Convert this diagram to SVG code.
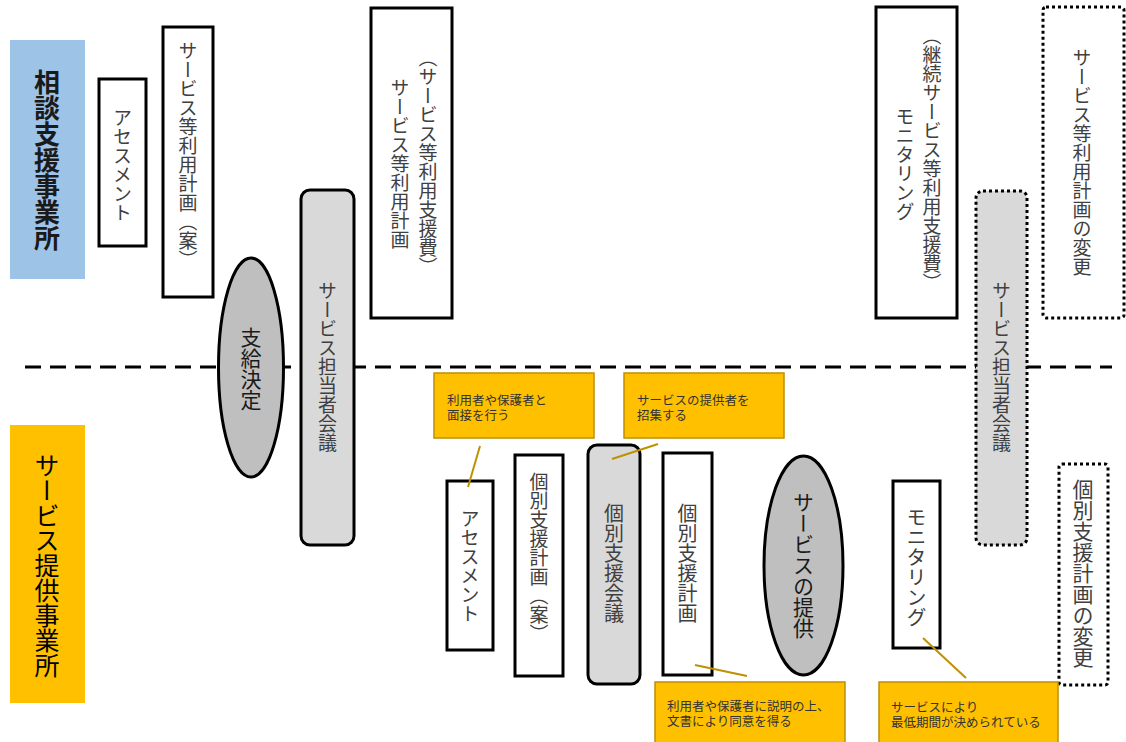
<svg xmlns="http://www.w3.org/2000/svg" width="1126" height="742" viewBox="0 0 1126 742">
<style>
text{font-family:"Noto Sans CJK JP","Noto Sans",sans-serif;}
.v{writing-mode:vertical-rl;text-anchor:middle;fill:#404040;font-size:19px;}
.box{fill:#fff;stroke:#000;stroke-width:3;}
.gbox{fill:#d9d9d9;stroke:#000;stroke-width:3;}
.dot{fill:#fff;stroke:#000;stroke-width:3;stroke-dasharray:3 3;}
.dotg{fill:#d9d9d9;stroke:#000;stroke-width:3;stroke-dasharray:3 3;}
.ell{fill:#bfbfbf;stroke:#000;stroke-width:3;}
.call{fill:#ffc000;stroke:#bf9000;stroke-width:1.5;}
.ct{font-size:12.5px;fill:#333;}
.lead{stroke:#bf9000;stroke-width:2;fill:none;}
</style>
<rect width="1126" height="742" fill="#fff"/>
<line x1="25" y1="367" x2="1112" y2="367" stroke="#000" stroke-width="3" stroke-dasharray="16 9"/>

<g id="lane-soudan">
<rect x="10" y="40" width="75" height="239" fill="#9dc3e6"/>
<text class="v" x="47" y="160" style="font-size:26px;font-weight:bold;fill:#1a1a1a">相談支援事業所</text>
</g>
<g id="lane-teikyo">
<rect x="10" y="425" width="75" height="278" fill="#ffc000"/>
<text class="v" x="47" y="565" style="font-size:25px;fill:#000">サービス提供事業所</text>
</g>

<g id="n-assess1">
<rect class="box" x="99" y="79" width="47" height="167"/>
<text class="v" x="122.5" y="165">アセスメント</text>
</g>
<g id="n-plan-draft1">
<rect class="box" x="163" y="27" width="50" height="270"/>
<text class="v" x="188" y="155">サービス等利用計画（案）</text>
</g>
<g id="n-shikyu">
<ellipse class="ell" cx="251" cy="367.5" rx="32.5" ry="109.5"/>
<text class="v" x="251" y="369" style="font-size:21px;fill:#1a1a1a">支給決定</text>
</g>
<g id="n-tantou1">
<rect class="gbox" x="301" y="190" width="53" height="355" rx="9"/>
<text class="v" x="327.5" y="367">サービス担当者会議</text>
</g>
<g id="n-plan1">
<rect class="box" x="371" y="8" width="81" height="310"/>
<text class="v" x="428" y="162">（サービス等利用支援費）</text>
<text class="v" x="400" y="164">サービス等利用計画</text>
</g>
<g id="n-monitor1">
<rect class="box" x="876" y="7" width="81" height="311"/>
<text class="v" x="932" y="159">（継続サービス等利用支援費）</text>
<text class="v" x="905" y="164">モニタリング</text>
</g>
<g id="n-tantou2">
<rect class="dotg" x="976" y="191" width="51" height="354" rx="7"/>
<text class="v" x="1001.5" y="367">サービス担当者会議</text>
</g>
<g id="n-change1">
<rect class="dot" x="1043" y="7" width="81" height="311" rx="3"/>
<text class="v" x="1082" y="162">サービス等利用計画の変更</text>
</g>

<g id="n-assess2">
<rect class="box" x="447" y="481" width="46" height="169"/>
<text class="v" x="470" y="566">アセスメント</text>
</g>
<g id="n-kobetsu-draft">
<rect class="box" x="515" y="455" width="48" height="221"/>
<text class="v" x="539" y="558">個別支援計画（案）</text>
</g>
<g id="n-kobetsu-kaigi">
<rect class="gbox" x="588" y="445" width="52" height="239" rx="9"/>
<text class="v" x="614" y="563" style="font-size:20px">個別支援会議</text>
</g>
<g id="n-kobetsu-plan">
<rect class="box" x="663" y="453" width="49" height="222"/>
<text class="v" x="687.5" y="563" style="font-size:20px">個別支援計画</text>
</g>
<g id="n-teikyo">
<ellipse class="ell" cx="803.5" cy="565.5" rx="39.5" ry="109.5"/>
<text class="v" x="803.5" y="565" style="font-size:21px;fill:#1a1a1a">サービスの提供</text>
</g>
<g id="n-monitor2">
<rect class="box" x="893" y="481" width="47" height="167"/>
<text class="v" x="916.5" y="567" style="font-size:20px">モニタリング</text>
</g>
<g id="n-change2">
<rect class="dot" x="1059" y="464" width="49" height="221" rx="3"/>
<text class="v" x="1083" y="573" style="font-size:21px">個別支援計画の変更</text>
</g>

<g id="callout-1">
<rect class="call" x="434" y="373" width="160" height="65"/>
<text class="ct" x="447" y="405">利用者や保護者と</text>
<text class="ct" x="447" y="420">面接を行う</text>
</g>
<g id="callout-2">
<rect class="call" x="624" y="373" width="160" height="65"/>
<text class="ct" x="637" y="405">サービスの提供者を</text>
<text class="ct" x="637" y="420">招集する</text>
</g>
<g id="callout-3">
<rect class="call" x="655" y="682" width="190" height="64"/>
<text class="ct" x="667" y="711">利用者や保護者に説明の上、</text>
<text class="ct" x="667" y="726">文書により同意を得る</text>
</g>
<g id="callout-4">
<rect class="call" x="879" y="682" width="179" height="64"/>
<text class="ct" x="891" y="712">サービスにより</text>
<text class="ct" x="891" y="727">最低期間が決められている</text>
</g>

<g id="connectors">
<line class="lead" x1="480" y1="446" x2="468" y2="487"/>
<line class="lead" x1="658" y1="444" x2="612" y2="459"/>
<line class="lead" x1="695" y1="665" x2="747" y2="676"/>
<line class="lead" x1="923" y1="638" x2="966" y2="678"/>
</g>
</svg>
